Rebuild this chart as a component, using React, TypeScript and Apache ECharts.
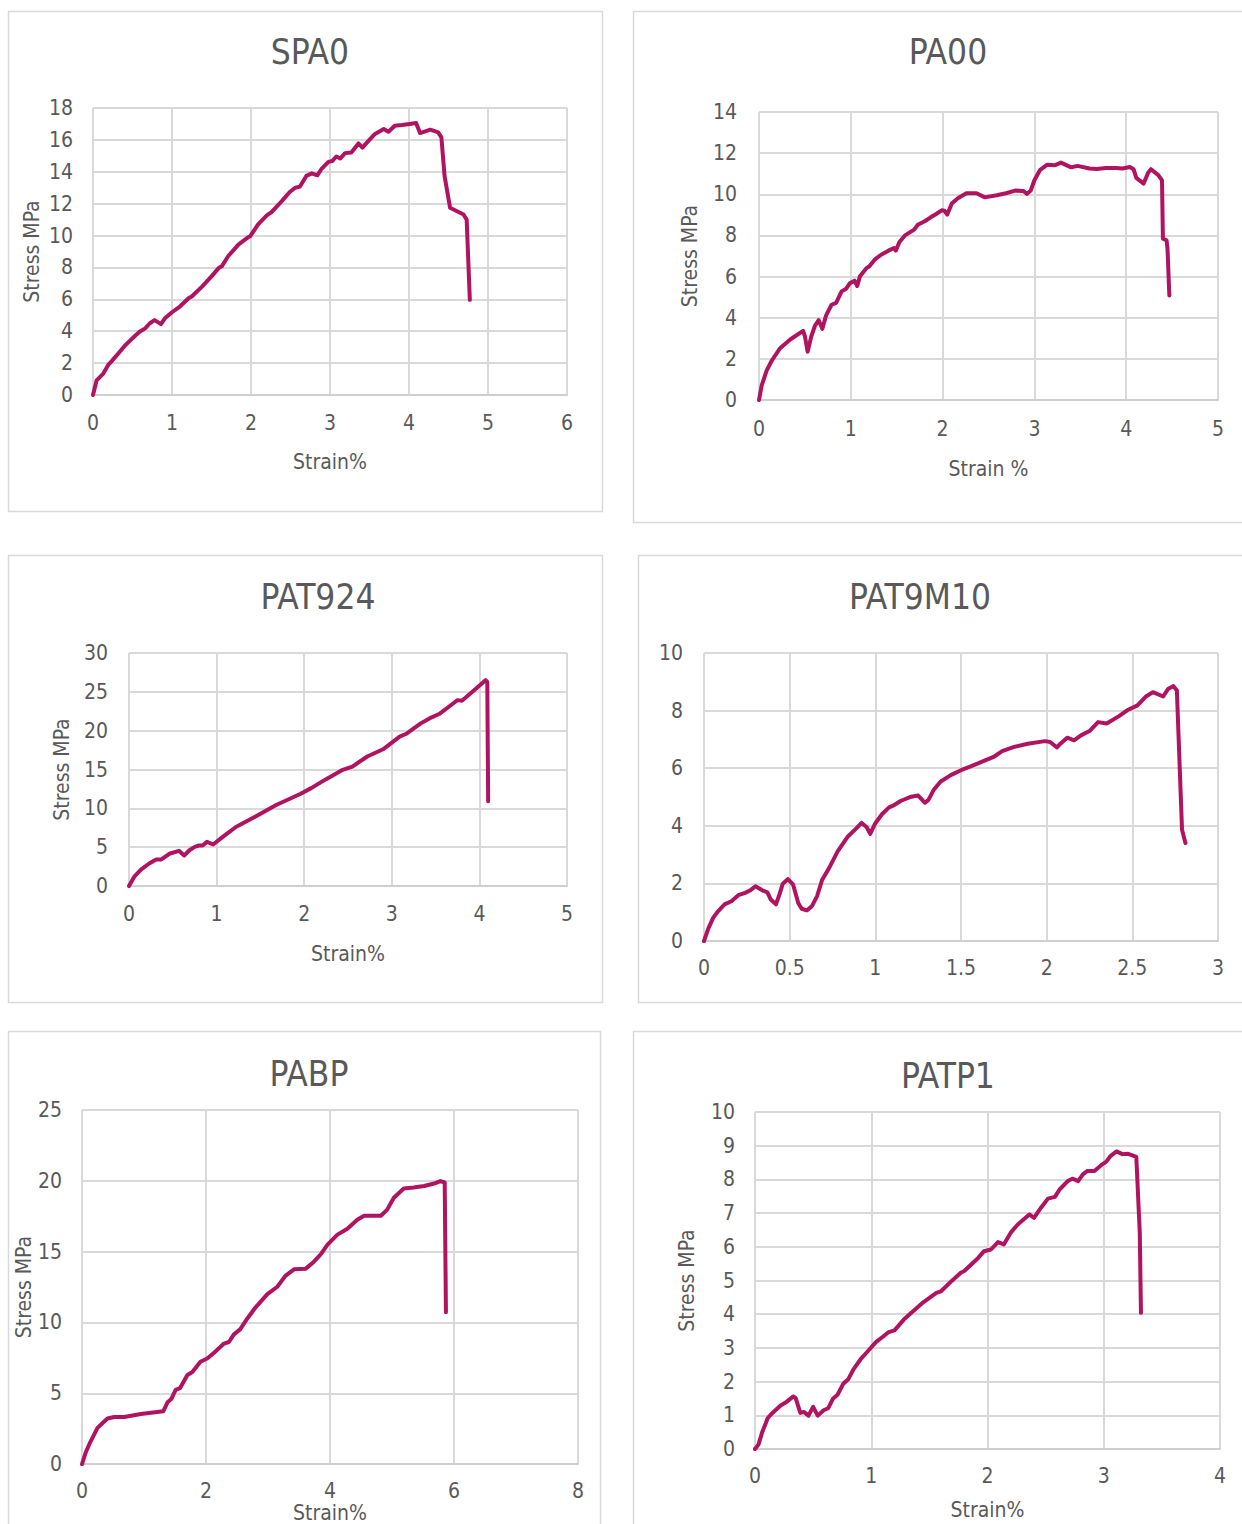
import React, { useEffect, useRef } from "react";
import * as echarts from "echarts";

const FONT = "'Liberation Sans Narrow', 'DejaVu Sans Condensed', sans-serif";
const LINE_COLOR = "#B0135F";
const TEXT_COLOR = "#595959";

// ---- Data ----
const titles = ["SPA0", "PA00", "PAT924", "PAT9M10", "PABP", "PATP1"];
const xNames = ["Strain%", "Strain %", "Strain%", "", "Strain%", "Strain%"];
const yNames = ["Stress MPa", "Stress MPa", "Stress MPa", "", "Stress MPa", "Stress MPa"];
const xMax = [6, 5, 5, 3, 8, 4];
const xStep = [1, 1, 1, 0.5, 2, 1];
const yMax = [18, 14, 30, 10, 25, 10];
const yStep = [2, 2, 5, 2, 5, 1];

const spa0Strain = [0, 0.046, 0.13, 0.19, 0.24, 0.32, 0.41, 0.53, 0.59, 0.66, 0.72, 0.78, 0.83, 0.86, 0.91, 1.0, 1.1, 1.21, 1.25, 1.38, 1.5, 1.59, 1.63, 1.71, 1.84, 1.97, 1.99, 2.09, 2.2, 2.26, 2.39, 2.49, 2.56, 2.62, 2.7, 2.77, 2.84, 2.89, 2.98, 3.03, 3.08, 3.13, 3.19, 3.27, 3.36, 3.41, 3.49, 3.57, 3.68, 3.74, 3.82, 3.91, 4.01, 4.09, 4.14, 4.27, 4.37, 4.41, 4.45, 4.52, 4.69, 4.73, 4.77];
const spa0Stress = [0, 0.92, 1.34, 1.87, 2.14, 2.6, 3.13, 3.7, 3.97, 4.18, 4.5, 4.7, 4.54, 4.45, 4.81, 5.19, 5.55, 6.07, 6.18, 6.8, 7.44, 7.96, 8.07, 8.7, 9.43, 9.92, 9.96, 10.7, 11.26, 11.47, 12.16, 12.73, 13.0, 13.07, 13.74, 13.9, 13.78, 14.16, 14.62, 14.68, 14.96, 14.83, 15.17, 15.21, 15.78, 15.52, 15.95, 16.37, 16.68, 16.51, 16.89, 16.93, 17.0, 17.06, 16.43, 16.64, 16.47, 16.16, 13.74, 11.74, 11.32, 11.0, 5.97];

const pa00Strain = [0, 0.029, 0.083, 0.14, 0.23, 0.34, 0.48, 0.5, 0.53, 0.57, 0.61, 0.65, 0.69, 0.73, 0.79, 0.84, 0.9, 0.95, 0.99, 1.04, 1.07, 1.1, 1.17, 1.2, 1.26, 1.33, 1.41, 1.47, 1.49, 1.53, 1.59, 1.69, 1.73, 1.81, 1.87, 1.93, 1.99, 2.02, 2.05, 2.1, 2.17, 2.26, 2.37, 2.46, 2.59, 2.69, 2.79, 2.88, 2.92, 2.96, 3.0, 3.06, 3.14, 3.22, 3.29, 3.4, 3.47, 3.6, 3.68, 3.78, 3.89, 3.96, 4.04, 4.08, 4.11, 4.19, 4.24, 4.27, 4.35, 4.39, 4.4, 4.44, 4.45, 4.47];
const pa00Stress = [0, 0.7, 1.43, 1.92, 2.52, 2.94, 3.36, 3.1, 2.35, 3.1, 3.62, 3.88, 3.46, 4.1, 4.63, 4.72, 5.28, 5.41, 5.68, 5.8, 5.54, 6.02, 6.41, 6.49, 6.82, 7.06, 7.26, 7.39, 7.26, 7.68, 8.0, 8.28, 8.52, 8.7, 8.88, 9.04, 9.22, 9.2, 9.01, 9.55, 9.82, 10.05, 10.05, 9.85, 9.95, 10.05, 10.18, 10.16, 10.02, 10.18, 10.68, 11.17, 11.44, 11.41, 11.54, 11.31, 11.38, 11.25, 11.23, 11.28, 11.28, 11.25, 11.33, 11.22, 10.8, 10.52, 11.06, 11.22, 10.93, 10.68, 7.84, 7.76, 7.35, 5.08];

const pat924Strain = [0, 0.06, 0.14, 0.23, 0.31, 0.37, 0.46, 0.57, 0.63, 0.69, 0.75, 0.8, 0.84, 0.89, 0.96, 1.07, 1.22, 1.45, 1.68, 1.83, 1.96, 2.08, 2.25, 2.44, 2.55, 2.72, 2.9, 3.09, 3.16, 3.33, 3.43, 3.54, 3.7, 3.75, 3.8, 3.92, 4.07, 4.09, 4.1];
const pat924Stress = [0, 1.2, 2.14, 2.9, 3.42, 3.42, 4.15, 4.53, 3.93, 4.6, 5.04, 5.21, 5.21, 5.68, 5.34, 6.32, 7.6, 8.97, 10.43, 11.2, 11.88, 12.6, 13.76, 14.96, 15.38, 16.67, 17.6, 19.23, 19.57, 20.94, 21.58, 22.14, 23.5, 23.93, 23.85, 25.0, 26.5, 26.28, 10.9];

const pat9m10Strain = [0, 0.025, 0.054, 0.083, 0.12, 0.16, 0.2, 0.24, 0.27, 0.3, 0.34, 0.37, 0.39, 0.42, 0.44, 0.46, 0.49, 0.52, 0.55, 0.57, 0.6, 0.63, 0.66, 0.69, 0.73, 0.78, 0.84, 0.88, 0.92, 0.95, 0.97, 1.0, 1.04, 1.08, 1.11, 1.15, 1.21, 1.25, 1.29, 1.31, 1.34, 1.38, 1.44, 1.5, 1.56, 1.62, 1.69, 1.74, 1.81, 1.89, 1.99, 2.02, 2.06, 2.08, 2.12, 2.16, 2.2, 2.25, 2.3, 2.35, 2.42, 2.47, 2.53, 2.58, 2.62, 2.68, 2.71, 2.74, 2.76, 2.79, 2.81];
const pat9m10Stress = [0, 0.43, 0.81, 1.04, 1.27, 1.38, 1.59, 1.67, 1.76, 1.9, 1.76, 1.69, 1.44, 1.27, 1.61, 1.99, 2.15, 1.96, 1.32, 1.12, 1.06, 1.21, 1.56, 2.13, 2.53, 3.11, 3.63, 3.86, 4.1, 3.95, 3.72, 4.09, 4.41, 4.64, 4.72, 4.87, 5.01, 5.05, 4.8, 4.9, 5.24, 5.53, 5.76, 5.93, 6.07, 6.22, 6.39, 6.59, 6.74, 6.85, 6.94, 6.91, 6.72, 6.85, 7.06, 6.97, 7.14, 7.29, 7.6, 7.55, 7.8, 8.01, 8.18, 8.49, 8.64, 8.49, 8.76, 8.85, 8.7, 3.86, 3.4];

const pabpStrain = [0, 0.06, 0.13, 0.25, 0.41, 0.52, 0.68, 0.95, 1.31, 1.38, 1.44, 1.51, 1.58, 1.7, 1.78, 1.91, 2.02, 2.13, 2.29, 2.37, 2.45, 2.55, 2.67, 2.8, 2.99, 3.15, 3.28, 3.42, 3.61, 3.74, 3.85, 3.96, 4.12, 4.28, 4.44, 4.55, 4.82, 4.92, 5.03, 5.19, 5.35, 5.52, 5.68, 5.78, 5.85, 5.87];
const pabpStress = [0, 0.82, 1.52, 2.56, 3.22, 3.33, 3.33, 3.54, 3.73, 4.36, 4.59, 5.24, 5.36, 6.29, 6.5, 7.23, 7.46, 7.86, 8.51, 8.62, 9.16, 9.51, 10.3, 11.07, 12.0, 12.52, 13.29, 13.75, 13.8, 14.29, 14.8, 15.5, 16.2, 16.62, 17.25, 17.53, 17.53, 17.95, 18.81, 19.46, 19.53, 19.63, 19.81, 19.98, 19.88, 10.72];

const patp1Strain = [0, 0.03, 0.06, 0.11, 0.15, 0.22, 0.26, 0.33, 0.35, 0.39, 0.42, 0.46, 0.5, 0.54, 0.59, 0.63, 0.67, 0.71, 0.76, 0.8, 0.85, 0.91, 0.97, 1.04, 1.1, 1.15, 1.2, 1.28, 1.35, 1.45, 1.56, 1.6, 1.69, 1.77, 1.8, 1.92, 1.97, 2.03, 2.09, 2.14, 2.2, 2.26, 2.36, 2.4, 2.46, 2.52, 2.58, 2.62, 2.69, 2.73, 2.78, 2.82, 2.86, 2.92, 2.98, 3.02, 3.06, 3.11, 3.16, 3.21, 3.24, 3.28, 3.31, 3.32];
const patp1Stress = [0, 0.13, 0.48, 0.92, 1.07, 1.29, 1.37, 1.56, 1.51, 1.07, 1.1, 0.99, 1.25, 0.99, 1.15, 1.21, 1.49, 1.61, 1.94, 2.06, 2.38, 2.67, 2.9, 3.17, 3.33, 3.47, 3.52, 3.84, 4.06, 4.36, 4.63, 4.68, 4.98, 5.23, 5.28, 5.67, 5.87, 5.92, 6.14, 6.07, 6.42, 6.66, 6.96, 6.86, 7.16, 7.43, 7.48, 7.7, 7.95, 8.02, 7.95, 8.15, 8.25, 8.25, 8.43, 8.52, 8.7, 8.83, 8.75, 8.76, 8.72, 8.67, 6.41, 4.04];

const strains = [spa0Strain, pa00Strain, pat924Strain, pat9m10Strain, pabpStrain, patp1Strain];
const stresses = [spa0Stress, pa00Stress, pat924Stress, pat9m10Stress, pabpStress, patp1Stress];

// ---- Layout (pixels) ----
const layout = [
  { grid: [93, 108, 474, 287], box: [8.5, 11.5, 594, 500], title: [305, 29], yGap: 51, xGap: 56, xMargin: 17, yMargin: 20 },
  { grid: [759, 112, 459, 288], box: [633.5, 11.5, 640, 511], title: [943, 29], yGap: 59, xGap: 58, xMargin: 18, yMargin: 22 },
  { grid: [129, 653, 438, 233], box: [8.5, 555.5, 594, 447], title: [313, 574], yGap: 57, xGap: 57, xMargin: 17, yMargin: 21 },
  { grid: [704, 653, 514, 288], box: [638.5, 555.5, 640, 447], title: [915, 574], yGap: 50, xGap: 50, xMargin: 16, yMargin: 21 },
  { grid: [82, 1110, 496, 358], box: [8.5, 1031.5, 592, 600], title: [304, 1051], yGap: 33, xGap: 30, xMargin: 16, yMargin: 20 },
  { grid: [755, 1112, 465, 337], box: [633.5, 1031.5, 640, 600], title: [943, 1053], yGap: 58, xGap: 50, xMargin: 16, yMargin: 20 },
];

function buildOption() {
  const grid: any[] = [];
  const xAxis: any[] = [];
  const yAxis: any[] = [];
  const series: any[] = [];
  const title: any[] = [];
  const graphic: any[] = [];

  titles.forEach((t, i) => {
    const L = layout[i];
    graphic.push({
      type: "rect",
      shape: { x: L.box[0], y: L.box[1], width: L.box[2], height: L.box[3] },
      style: { fill: "#fff", stroke: "#d9d9d9", lineWidth: 1.5 },
      z: -10,
      silent: true,
    });
    title.push({
      text: t,
      left: L.title[0],
      top: L.title[1],
      textAlign: "center",
      textStyle: { fontFamily: FONT, fontSize: 35, fontWeight: "normal", color: TEXT_COLOR },
    });
    grid.push({ left: L.grid[0], top: L.grid[1], width: L.grid[2], height: L.grid[3], containLabel: false });
    xAxis.push({
      type: "value",
      gridIndex: i,
      min: 0,
      max: xMax[i],
      interval: xStep[i],
      name: xNames[i],
      nameLocation: "middle",
      nameGap: L.xGap,
      nameTextStyle: { fontFamily: FONT, fontSize: 21, color: TEXT_COLOR },
      axisLine: { show: true, lineStyle: { color: "#cfcfcf", width: 2 } },
      axisTick: { show: false },
      axisLabel: { fontFamily: FONT, fontSize: 21, color: TEXT_COLOR, margin: L.xMargin },
      splitLine: { show: true, lineStyle: { color: "#d9d9d9", width: 2 } },
    });
    yAxis.push({
      type: "value",
      gridIndex: i,
      min: 0,
      max: yMax[i],
      interval: yStep[i],
      name: yNames[i],
      nameLocation: "middle",
      nameRotate: 90,
      nameGap: L.yGap,
      nameTextStyle: { fontFamily: FONT, fontSize: 21, color: TEXT_COLOR },
      axisLine: { show: false },
      axisTick: { show: false },
      axisLabel: { fontFamily: FONT, fontSize: 21, color: TEXT_COLOR, margin: L.yMargin },
      splitLine: { show: true, lineStyle: { color: "#d9d9d9", width: 2 } },
    });
    series.push({
      type: "line",
      name: t,
      xAxisIndex: i,
      yAxisIndex: i,
      data: strains[i].map((x, k) => [x, stresses[i][k]]),
      showSymbol: false,
      symbol: "none",
      smooth: false,
      lineStyle: { color: LINE_COLOR, width: 4, join: "round", cap: "round" },
      z: 5,
    });
  });

  return {
    animation: false,
    backgroundColor: "#ffffff",
    textStyle: { fontFamily: FONT },
    title,
    grid,
    xAxis,
    yAxis,
    series,
    graphic,
  };
}

export default function App() {
  const ref = useRef<HTMLDivElement>(null);
  useEffect(() => {
    if (!ref.current) return;
    const chart = echarts.init(ref.current, undefined, { renderer: "svg" });
    chart.setOption(buildOption() as any);
    return () => chart.dispose();
  }, []);
  return (
    <div
      ref={ref}
      style={{ position: "absolute", left: 0, top: 0, width: 1242, height: 1524, background: "#fff" }}
    />
  );
}
